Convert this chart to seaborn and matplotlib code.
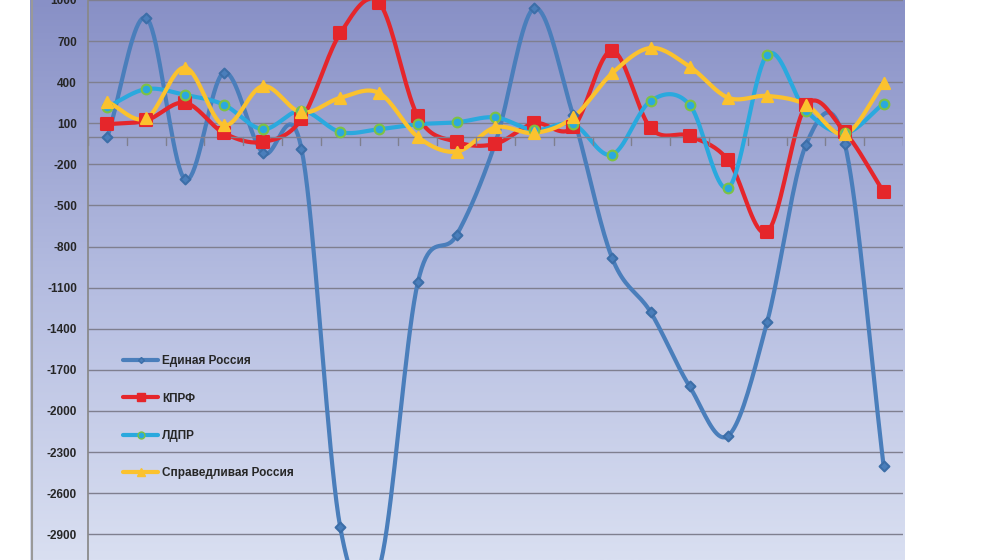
import numpy as np
import pandas as pd
import matplotlib
matplotlib.use("Agg")
import matplotlib.pyplot as plt
import seaborn as sns
from matplotlib.colors import LinearSegmentedColormap

idx = list(range(21))
er = [0, 870, -310, 470, -115, -85, -2850, -3150, -1060, -715, -40, 940, 157, -880, -1280, -1820, -2180, -1350, -57, -50, -2400]
kprf = [93, 121, 250, 29, -36, 129, 757, 980, 150, -36, -50, 100, 70, 630, 64, 7, -171, -693, 230, 36, -400]
ldpr = [220, 350, 307, 236, 57, 193, 36, 57, 93, 107, 143, 50, 93, -129, 264, 236, -371, 600, 193, 29, 243]
sr = [257, 136, 507, 86, 371, 179, 286, 321, 0, -107, 71, 29, 143, 464, 650, 514, 286, 300, 236, 21, 393]
names = ["Единая Россия", "КПРФ", "ЛДПР", "Справедливая Россия"]
yticks = list(range(1000, -3000, -300))

sns.set_theme(style="white")
plt.rcParams['font.family'] = ['Liberation Sans', 'DejaVu Sans']

fig = plt.figure(figsize=(10, 5.6), dpi=100)
bg = fig.add_axes([0.03, 0, 0.875, 1])
grad = np.linspace(0, 1, 256).reshape(-1, 1)
cm = LinearSegmentedColormap.from_list("g", ["#8890c6", "#b4bce0", "#d9dff1"])
bg.imshow(grad, aspect="auto", cmap=cm, extent=[0, 1, 0, 1], origin="upper")
bg.set_axis_off()
bg.plot([0.002, 0.002], [0, 1], color="#999999", lw=1.5, transform=bg.transAxes)

ax = fig.add_axes([0.088, 0, 0.815, 1])
ax.patch.set_alpha(0)
ax.set_xlim(-0.5, 20.5)
ax.set_ylim(-3088, 976)

def smooth(x, y, n=20):
    x = np.asarray(x, float); y = np.asarray(y, float)
    P = np.vstack([x, y]).T
    P = np.vstack([2*P[0]-P[1], P, 2*P[-1]-P[-2]])
    out = []
    t = np.linspace(0, 1, n, endpoint=False)
    for i in range(1, len(P)-2):
        p0, p1, p2, p3 = P[i-1], P[i], P[i+1], P[i+2]
        for tt in t:
            out.append(0.5*((2*p1) + (-p0+p2)*tt + (2*p0-5*p1+4*p2-p3)*tt**2 + (-p0+3*p1-3*p2+p3)*tt**3))
    out.append(P[-2])
    out = np.array(out)
    return out[:, 0], out[:, 1]

series = [(er, "#4a7ebb", "D", "#3c6ea8", 5), (kprf, "#e5262b", "s", "#e5262b", 8),
          (ldpr, "#2aa9de", "o", "#7dc243", 7), (sr, "#fbc22e", "^", "#fbc22e", 8)]
for (vals, c, m, ec, ms), nm in zip(series, names):
    sx, sy = smooth(idx, vals)
    sns.lineplot(x=sx, y=sy, ax=ax, color=c, lw=3, sort=False, estimator=None)
    sns.scatterplot(x=idx, y=vals, ax=ax, color=c, marker=m, s=ms**2, edgecolor=ec, linewidth=1.5, zorder=5)
    ax.plot([], [], color=c, lw=3, marker=m, ms=ms-2, markeredgecolor=ec, label=nm)

ax.set_yticks(yticks)
ax.set_yticklabels([str(v) for v in yticks], fontweight="bold", fontsize=8.5)
ax.tick_params(axis="y", length=0, pad=8)
ax.yaxis.grid(True, color="#7f7f8f", lw=1)
ax.set_xticks([])
ax.axhline(0, color="#7f7f8f", lw=1)
for b in np.arange(-0.5, 21, 1):
    ax.plot([b, b], [0, -60], color="#7f7f8f", lw=1)
for s in ["top", "right", "bottom"]:
    ax.spines[s].set_visible(False)
ax.spines["left"].set_color("#888888")

leg = ax.legend(loc="lower left", bbox_to_anchor=(0.03, 0.125), frameon=False,
                labelspacing=2.15, handlelength=3.0, handletextpad=0.3,
                prop={"weight": "bold", "size": 8.5})
fig.savefig("out.png", dpi=100)
